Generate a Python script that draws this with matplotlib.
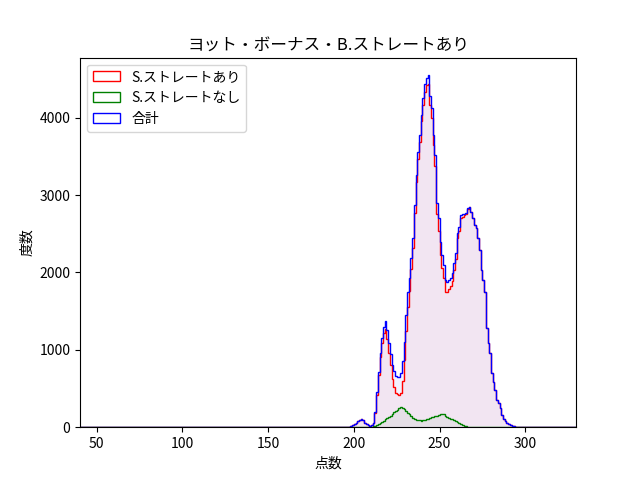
import numpy as np
import matplotlib
matplotlib.use('Agg')
import matplotlib.pyplot as plt

plt.rcParams['font.family'] = ['Noto Sans CJK JP', 'DejaVu Sans']

# 点数 196..296 の度数
scores = np.arange(196, 297)

total = [0, 5, 15, 30, 45, 60, 75, 95, 110, 90,
         60, 40, 25, 20, 25, 60, 200, 450, 716, 960,
         1150, 1300, 1370, 1250, 1090, 950, 800, 720, 660, 650,
         655, 700, 850, 1100, 1450, 1750, 1930, 2190, 2440, 2870,
         3260, 3560, 3780, 4040, 4250, 4430, 4520, 4550, 4280, 4130,
         3780, 3520, 2900, 2700, 2400, 2230, 2100, 1900, 1880, 1900,
         1930, 1990, 2120, 2250, 2510, 2590, 2740, 2750, 2760, 2770,
         2830, 2850, 2780, 2700, 2610, 2570, 2440, 2290, 2030, 1900,
         1750, 1280, 1090, 960, 700, 590, 480, 350, 310, 245,
         155, 110, 85, 50, 35, 25, 15, 10, 5, 3,
         0]

green = [0, 0, 0, 0, 0, 0, 0, 0, 0, 0,
         0, 0, 0, 0, 2, 10, 20, 30, 40, 50,
         65, 85, 100, 115, 130, 150, 175, 195, 215, 225,
         245, 255, 250, 235, 210, 190, 165, 145, 120, 105,
         95, 90, 88, 85, 88, 92, 100, 110, 120, 130,
         138, 142, 150, 160, 170, 175, 165, 150, 135, 120,
         110, 100, 90, 80, 65, 50, 40, 30, 20, 12,
         8, 3, 0, 0, 0, 0, 0, 0, 0, 0,
         0, 0, 0, 0, 0, 0, 0, 0, 0, 0,
         0, 0, 0, 0, 0, 0, 0, 0, 0, 0,
         0]

red = [0, 5, 15, 30, 45, 60, 75, 95, 110, 90,
       60, 40, 25, 20, 23, 50, 180, 420, 676, 910,
       1085, 1215, 1270, 1135, 960, 800, 625, 525, 445, 425,
       410, 445, 600, 865, 1240, 1560, 1765, 2045, 2320, 2765,
       3165, 3470, 3692, 3955, 4162, 4338, 4420, 4440, 4160, 4000,
       3642, 3378, 2750, 2540, 2230, 2055, 1935, 1750, 1745, 1780,
       1820, 1890, 2030, 2170, 2445, 2540, 2700, 2720, 2740, 2758,
       2822, 2847, 2780, 2700, 2610, 2570, 2440, 2290, 2030, 1900,
       1750, 1280, 1090, 960, 700, 590, 480, 350, 310, 245,
       155, 110, 85, 50, 35, 25, 15, 10, 5, 3,
       0]

labels = ['S.ストレートあり', 'S.ストレートなし', '合計']
colors = ['red', 'green', 'blue']

bins = np.arange(40, 331)
centers = bins[:-1] + 0.5

fig, ax = plt.subplots(figsize=(6.4, 4.8), dpi=100)
for vals, lab, col in zip([red, green, total], labels, colors):
    w = np.zeros(len(centers))
    w[scores - 40] = vals
    ax.hist(centers, bins=bins, weights=w, histtype='stepfilled', color=col, alpha=0.05)
    ax.hist(centers, bins=bins, weights=w, histtype='step', color=col, label=lab)

ax.set_xlim(40.3, 329.6)
ax.set_title('ヨット・ボーナス・B.ストレートあり')
ax.set_xlabel('点数')
ax.set_ylabel('度数')
ax.legend(loc='upper left')
fig.savefig('out.png')
